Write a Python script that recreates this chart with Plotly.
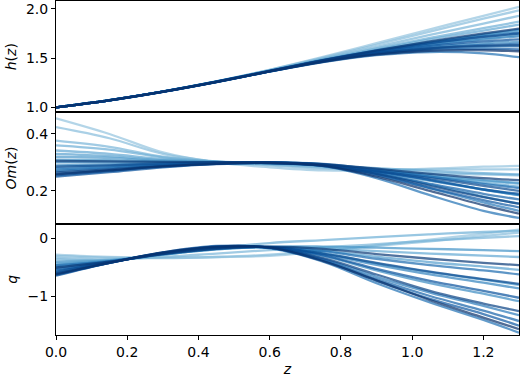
import plotly.graph_objects as go
from plotly.subplots import make_subplots
from plotly.colors import sample_colorscale

z_grid = [0, 0.15, 0.3, 0.45, 0.6, 0.75, 0.9, 1.05, 1.2, 1.3]

h_curves = [
    [1.0, 1.073, 1.162, 1.265, 1.382, 1.512, 1.652, 1.792, 1.93, 2.02],
    [1.0, 1.073, 1.162, 1.264, 1.38, 1.505, 1.636, 1.77, 1.9, 1.985],
    [1.0, 1.073, 1.161, 1.263, 1.377, 1.496, 1.615, 1.735, 1.85, 1.93],
    [1.0, 1.073, 1.161, 1.262, 1.374, 1.489, 1.6, 1.705, 1.805, 1.87],
    [1.0, 1.073, 1.161, 1.262, 1.373, 1.486, 1.59, 1.69, 1.78, 1.84],
    [1.0, 1.073, 1.16, 1.261, 1.371, 1.481, 1.576, 1.66, 1.735, 1.78],
    [1.0, 1.072, 1.16, 1.26, 1.369, 1.476, 1.566, 1.64, 1.7, 1.735],
    [1.0, 1.073, 1.161, 1.261, 1.371, 1.482, 1.58, 1.665, 1.74, 1.79],
    [1.0, 1.072, 1.159, 1.259, 1.368, 1.472, 1.555, 1.615, 1.65, 1.665],
    [1.0, 1.072, 1.16, 1.26, 1.37, 1.478, 1.566, 1.636, 1.69, 1.72],
    [1.0, 1.072, 1.159, 1.258, 1.366, 1.468, 1.545, 1.595, 1.615, 1.62],
    [1.0, 1.071, 1.158, 1.257, 1.364, 1.46, 1.53, 1.562, 1.548, 1.51],
    [1.0, 1.073, 1.16, 1.261, 1.37, 1.48, 1.575, 1.655, 1.72, 1.76],
    [1.0, 1.072, 1.159, 1.258, 1.367, 1.47, 1.55, 1.605, 1.635, 1.645],
    [1.0, 1.071, 1.158, 1.257, 1.365, 1.465, 1.54, 1.585, 1.595, 1.59],
    [1.0, 1.072, 1.159, 1.259, 1.368, 1.474, 1.56, 1.625, 1.67, 1.69],
    [1.0, 1.072, 1.16, 1.26, 1.369, 1.477, 1.57, 1.65, 1.715, 1.75],
    [1.0, 1.072, 1.159, 1.258, 1.366, 1.468, 1.548, 1.6, 1.625, 1.63],
    [1.0, 1.073, 1.16, 1.261, 1.371, 1.48, 1.58, 1.67, 1.75, 1.8],
    [1.0, 1.071, 1.158, 1.257, 1.365, 1.463, 1.535, 1.575, 1.58, 1.57],
]

om_curves = [
    [0.455, 0.40, 0.335, 0.30, 0.283, 0.272, 0.272, 0.278, 0.285, 0.288],
    [0.424, 0.385, 0.33, 0.303, 0.29, 0.278, 0.275, 0.275, 0.276, 0.276],
    [0.377, 0.355, 0.32, 0.302, 0.292, 0.282, 0.27, 0.262, 0.258, 0.255],
    [0.36, 0.345, 0.318, 0.303, 0.295, 0.285, 0.268, 0.25, 0.235, 0.225],
    [0.342, 0.33, 0.312, 0.303, 0.297, 0.29, 0.28, 0.27, 0.262, 0.258],
    [0.33, 0.322, 0.308, 0.302, 0.298, 0.29, 0.272, 0.25, 0.228, 0.215],
    [0.32, 0.316, 0.306, 0.302, 0.298, 0.288, 0.265, 0.235, 0.205, 0.185],
    [0.31, 0.308, 0.303, 0.301, 0.299, 0.292, 0.275, 0.255, 0.238, 0.228],
    [0.30, 0.30, 0.30, 0.301, 0.30, 0.29, 0.262, 0.222, 0.18, 0.155],
    [0.29, 0.293, 0.297, 0.30, 0.30, 0.293, 0.27, 0.24, 0.205, 0.185],
    [0.28, 0.287, 0.294, 0.299, 0.301, 0.292, 0.258, 0.21, 0.16, 0.13],
    [0.275, 0.283, 0.292, 0.298, 0.30, 0.287, 0.245, 0.185, 0.13, 0.105],
    [0.27, 0.28, 0.29, 0.297, 0.299, 0.295, 0.275, 0.25, 0.225, 0.21],
    [0.26, 0.273, 0.287, 0.296, 0.299, 0.291, 0.262, 0.225, 0.19, 0.17],
    [0.255, 0.27, 0.285, 0.295, 0.298, 0.288, 0.255, 0.21, 0.168, 0.142],
    [0.25, 0.266, 0.283, 0.294, 0.298, 0.29, 0.268, 0.238, 0.205, 0.19],
    [0.285, 0.29, 0.296, 0.30, 0.30, 0.292, 0.27, 0.245, 0.218, 0.20],
    [0.265, 0.276, 0.288, 0.296, 0.299, 0.29, 0.26, 0.218, 0.178, 0.155],
    [0.305, 0.304, 0.302, 0.301, 0.30, 0.294, 0.278, 0.26, 0.245, 0.238],
    [0.258, 0.272, 0.286, 0.295, 0.298, 0.288, 0.25, 0.20, 0.15, 0.12],
]

q_curves = [
    [-0.28, -0.32, -0.33, -0.32, -0.30, -0.22, -0.12, -0.02, 0.08, 0.15],
    [-0.30, -0.33, -0.34, -0.32, -0.28, -0.21, -0.13, -0.05, 0.04, 0.10],
    [-0.33, -0.36, -0.32, -0.26, -0.20, -0.15, -0.10, -0.04, 0.01, 0.04],
    [-0.36, -0.37, -0.28, -0.17, -0.08, -0.03, 0.02, 0.07, 0.11, 0.13],
    [-0.42, -0.39, -0.28, -0.19, -0.15, -0.17, -0.22, -0.26, -0.295, -0.32],
    [-0.45, -0.39, -0.27, -0.18, -0.15, -0.21, -0.315, -0.41, -0.485, -0.54],
    [-0.48, -0.40, -0.26, -0.16, -0.15, -0.25, -0.43, -0.58, -0.71, -0.80],
    [-0.40, -0.38, -0.28, -0.19, -0.14, -0.14, -0.16, -0.18, -0.20, -0.22],
    [-0.55, -0.41, -0.26, -0.16, -0.16, -0.30, -0.55, -0.77, -0.95, -1.08],
    [-0.50, -0.40, -0.26, -0.17, -0.15, -0.27, -0.455, -0.62, -0.76, -0.86],
    [-0.58, -0.41, -0.25, -0.15, -0.16, -0.35, -0.66, -0.93, -1.16, -1.32],
    [-0.63, -0.42, -0.25, -0.14, -0.17, -0.40, -0.77, -1.10, -1.40, -1.62],
    [-0.46, -0.39, -0.27, -0.18, -0.15, -0.22, -0.35, -0.46, -0.55, -0.62],
    [-0.61, -0.42, -0.25, -0.14, -0.16, -0.37, -0.70, -0.99, -1.24, -1.42],
    [-0.64, -0.42, -0.24, -0.13, -0.16, -0.38, -0.73, -1.04, -1.30, -1.50],
    [-0.53, -0.41, -0.26, -0.16, -0.15, -0.29, -0.525, -0.73, -0.90, -1.02],
    [-0.57, -0.41, -0.26, -0.16, -0.15, -0.26, -0.42, -0.57, -0.70, -0.78],
    [-0.60, -0.42, -0.25, -0.15, -0.16, -0.34, -0.62, -0.90, -1.12, -1.25],
    [-0.50, -0.40, -0.27, -0.18, -0.14, -0.18, -0.27, -0.35, -0.42, -0.46],
    [-0.62, -0.42, -0.24, -0.14, -0.16, -0.39, -0.72, -1.06, -1.36, -1.56],
]

x_ticks = [0.0, 0.2, 0.4, 0.6, 0.8, 1.0, 1.2]
h_ticks = [1.0, 1.5, 2.0]
om_ticks = [0.2, 0.4]
q_ticks = [-1, 0]

fig = make_subplots(rows=3, cols=1, shared_xaxes=True, vertical_spacing=0)

n = len(h_curves)
shades = sample_colorscale("Blues", [0.4 + 0.6 * i / (n - 1) for i in range(n)])

for row, curves in enumerate([h_curves, om_curves, q_curves], start=1):
    for i, ys in enumerate(curves):
        fig.add_trace(
            go.Scatter(
                x=z_grid, y=ys, mode="lines",
                line=dict(color=shades[i], width=2.3, shape="spline", smoothing=1.0),
                opacity=0.7, showlegend=False, hoverinfo="skip",
            ),
            row=row, col=1,
        )

axis_common = dict(
    showline=True, linecolor="black", linewidth=1, mirror=True,
    showgrid=False, zeroline=False, tickcolor="black", ticklen=4,
    tickfont=dict(size=14, color="black"), automargin=False,
)

fig.update_xaxes(range=[0, 1.3], **axis_common)
fig.update_xaxes(ticks="", row=1, col=1)
fig.update_xaxes(ticks="", row=2, col=1)
fig.update_xaxes(
    ticks="outside", tickvals=x_ticks, tickformat=".1f",
    title=dict(text="<i>z</i>", font=dict(size=14, color="black"), standoff=5),
    row=3, col=1,
)

fig.update_yaxes(ticks="outside", **axis_common)
fig.update_yaxes(range=[0.95, 2.08], tickvals=h_ticks, tickformat=".1f",
                 title=dict(text="<i>h</i>(<i>z</i>)", font=dict(size=14, color="black"), standoff=6),
                 row=1, col=1)
fig.update_yaxes(range=[0.085, 0.476], tickvals=om_ticks, tickformat=".1f",
                 title=dict(text="<i>Om</i>(<i>z</i>)", font=dict(size=14, color="black"), standoff=6),
                 row=2, col=1)
fig.update_yaxes(range=[-1.66, 0.253], tickvals=q_ticks, tickformat="d",
                 title=dict(text="<i>q</i>", font=dict(size=14, color="black"), standoff=6),
                 row=3, col=1)

fig.update_layout(
    width=520, height=378,
    margin=dict(l=56, r=1, t=1, b=43),
    paper_bgcolor="white", plot_bgcolor="white",
    font=dict(family="DejaVu Sans", size=14, color="black"),
)

fig.write_html(
    "out.html",
    config={"displayModeBar": False},
    post_script="document.body.style.margin='0';document.body.style.padding='0';",
)
